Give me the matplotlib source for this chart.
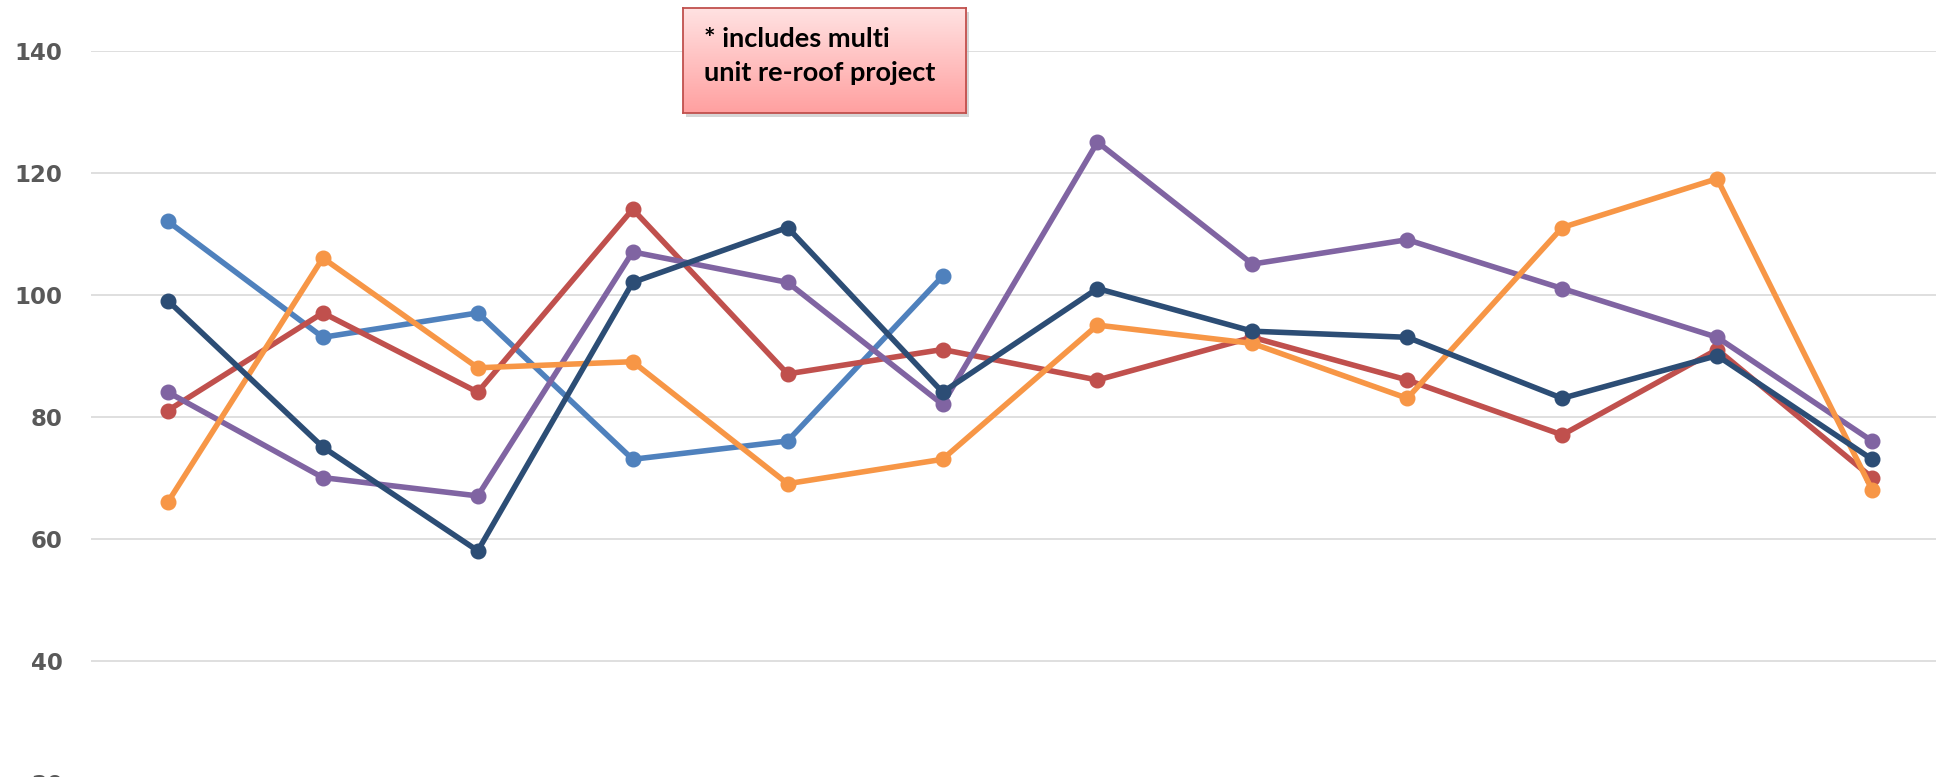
import matplotlib
matplotlib.use('Agg')
import matplotlib.pyplot as plt
import numpy as np

# === DATA ===
months = ['Jan', 'Feb', 'Mar', 'Apr', 'May', 'Jun',
          'Jul', 'Aug', 'Sep', 'Oct', 'Nov', 'Dec']
blue   = [112, 93, 97, 73, 76, 103, None, None, None, None, None, None]
red    = [81, 97, 84, 114, 87, 91, 86, 93, 86, 77, 91, 70]
purple = [84, 70, 67, 107, 102, 82, 125, 105, 109, 101, 93, 76]
orange = [66, 106, 88, 89, 69, 73, 95, 92, 83, 111, 119, 68]
navy   = [99, 75, 58, 102, 111, 84, 101, 94, 93, 83, 90, 73]
y_ticks = [20, 40, 60, 80, 100, 120, 140]
note = '* includes multi\nunit re-roof project'

# === STYLE ===
series = [
    (blue, '#4F81BD'),
    (red, '#C0504D'),
    (purple, '#8064A2'),
    (orange, '#F79646'),
    (navy, '#2C4D75'),
]

W, H = 1936, 777
fig = plt.figure(figsize=(W / 100, H / 100), dpi=100)

# plot area runs past the bottom and right edges (chart is cropped)
left_px, right_px = 90.5, 1949.5
top_px, zero_px = 50.6, 904.6
ax = fig.add_axes([left_px / W, 1 - zero_px / H,
                   (right_px - left_px) / W, (zero_px - top_px) / H])

x = np.arange(len(months))
for vals, col in series:
    y = np.array([np.nan if v is None else v for v in vals], dtype=float)
    ax.plot(x, y, '-o', color=col, lw=4, ms=10.5, solid_capstyle='round',
            zorder=3)

ax.set_xlim(-0.5, len(months) - 0.5)
ax.set_ylim(0, 140)
ax.set_yticks(y_ticks)
ax.set_yticklabels([str(t) for t in y_ticks], fontsize=16.5,
                   fontweight='bold', color='#595959')
ax.set_xticks([])
ax.tick_params(axis='y', length=0, pad=20)
ax.grid(axis='y', color='#D9D9D9', lw=1.2)
ax.set_axisbelow(True)
for s in ax.spines.values():
    s.set_visible(False)

# === NOTE BOX (gradient fill) ===
bx0, by0, bx1, by1 = 682.7, 8.3, 966, 113.3
# shadow
sh = fig.add_axes([(bx0 + 3) / W, 1 - (by1 + 4) / H,
                   (bx1 - bx0) / W, (by1 - by0) / H])
sh.set_facecolor('#BBBBBB')
sh.patch.set_alpha(0.6)
sh.set_xticks([])
sh.set_yticks([])
for s in sh.spines.values():
    s.set_visible(False)

box = fig.add_axes([bx0 / W, 1 - by1 / H, (bx1 - bx0) / W, (by1 - by0) / H])
top_c = np.array([255, 226, 226]) / 255
bot_c = np.array([255, 160, 160]) / 255
t = np.linspace(0, 1, 100)[:, None]
grad = (top_c[None, :] * (1 - t) + bot_c[None, :] * t)[:, None, :]
box.imshow(grad, aspect='auto', extent=[0, 1, 0, 1])
box.set_xlim(0, 1)
box.set_ylim(0, 1)
box.set_xticks([])
box.set_yticks([])
for s in box.spines.values():
    s.set_color('#C0504D')
    s.set_linewidth(1.3)
box.text(0.075, 0.545, note, ha='left', va='center', fontsize=19.5,
         fontweight='bold', family='Lato', color='black', linespacing=1.5)

fig.savefig('out.png', dpi=100)
